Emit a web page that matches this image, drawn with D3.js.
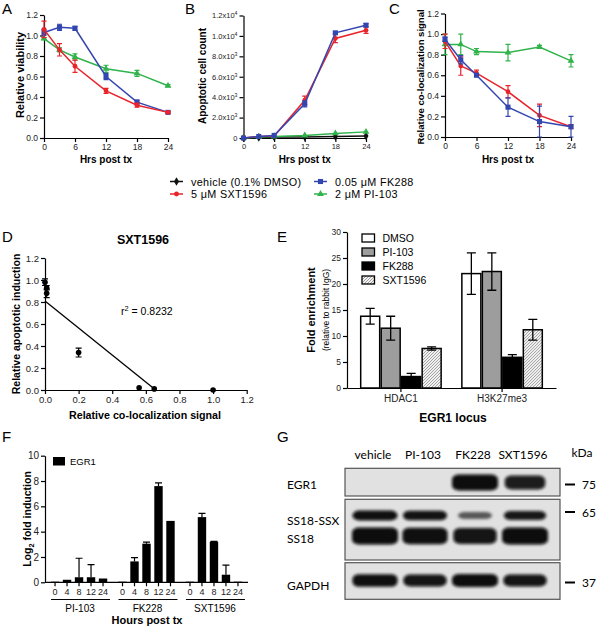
<!DOCTYPE html>
<html><head><meta charset="utf-8">
<script src="https://cdn.jsdelivr.net/npm/d3@7"></script>
<style>
body{margin:0;background:#fff}
svg{font-family:"Liberation Sans",Arial,sans-serif}
</style></head><body>
<svg id="c" width="600" height="632"></svg>
<script>
// ---------------- DATA ----------------
const hours = [0, 3, 6, 12, 18, 24];
const xTicksHrs = [0, 6, 12, 18, 24];
const seriesNames = ["vehicle (0.1% DMSO)", "0.05 \u03bcM FK288", "5 \u03bcM SXT1596", "2 \u03bcM PI-103"];

// A: relative viability
const viabSXT = [1.06, 0.86, 0.70, 0.46, 0.32, 0.25];
const viabSXTErr = [0.08, 0.06, 0.06, 0.025, 0.02, 0.01];
const viabFK = [1.03, 1.08, 1.07, 0.60, 0.35, 0.25];
const viabFKErr = [0.03, 0.03, 0.02, 0.03, 0.02, 0.01];
const viabPI = [0.97, 0.86, 0.79, 0.675, 0.63, 0.51];
const viabPIErr = [0.01, 0.02, 0.03, 0.035, 0.03, 0.01];
const yTicksRel = [0, 0.2, 0.4, 0.6, 0.8, 1.0, 1.2];

// B: apoptotic cell count
const apoVeh = [0, 50, 100, 100, 150, 200];
const apoVehErr = [0, 0, 0, 0, 0, 0];
const apoSXT = [0, 150, 200, 3700, 9750, 10550];
const apoSXTErr = [0, 0, 0, 400, 400, 300];
const apoFK = [0, 150, 250, 3350, 10300, 11050];
const apoFKErr = [0, 0, 0, 300, 100, 150];
const apoPI = [0, 100, 150, 250, 450, 600];
const apoPIErr = [0, 0, 0, 0, 0, 0];
const yTicksApo = [0, 2000, 4000, 6000, 8000, 10000, 12000];

// C: relative co-localization signal
const colSXT = [0.93, 0.69, 0.62, 0.44, 0.21, 0.10];
const colSXTErr = [0.07, 0.09, 0.03, 0.06, 0.11, 0.02];
const colFK = [0.95, 0.75, 0.60, 0.29, 0.15, 0.10];
const colFKErr = [0.02, 0.04, 0.01, 0.09, 0.15, 0.10];
const colPI = [0.90, 0.90, 0.83, 0.82, 0.875, 0.74];
const colPIErr = [0.10, 0.10, 0.03, 0.08, 0.015, 0.06];

// D: SXT1596 correlation
const dColoc = [0.0, 0.01, 0.01, 0.20, 0.56, 0.65, 1.0];
const dApop = [0.98, 0.93, 0.88, 0.34, 0.02, 0.01, 0.0];
const dApopErr = [0.03, 0.02, 0.04, 0.04, 0, 0, 0];
const fitIntercept = 0.81;
const fitSlope = -1.23;
const rSquared = "0.8232";
const dTicks = [0, 0.2, 0.4, 0.6, 0.8, 1.0, 1.2];

// E: ChIP fold enrichment at EGR1 locus
const eTargets = ["HDAC1", "H3K27me3"];
const eTreatments = ["DMSO", "PI-103", "FK288", "SXT1596"];
const eHDAC1 = [13.8, 11.5, 2.2, 7.6];
const eHDAC1Err = [1.5, 2.3, 0.6, 0.3];
const eH3K27 = [22.0, 22.4, 5.9, 11.2];
const eH3K27Err = [4.0, 3.6, 0.5, 2.0];
const eTicks = [0, 5, 10, 15, 20, 25, 30];

// F: EGR1 log2 fold induction
const fGroups = ["PI-103", "FK228", "SXT1596"];
const fHours = ["0", "4", "8", "12", "24"];
const fPI = [0.05, 0.2, 0.4, 0.4, 0.3];
const fPIErr = [0, 0, 1.5, 1.0, 0];
const fFK = [0.05, 1.65, 3.05, 7.6, 4.85];
const fFKErr = [0, 0.3, 0.12, 0.25, 0];
const fSXT = [0.05, 5.15, 3.2, 0.6, 0.05];
const fSXTErr = [0, 0.3, 0.03, 0.75, 0];
const fTicks = [0, 2, 4, 6, 8, 10];

// G: western blot
const blotLanes = ["vehicle", "PI-103", "FK228", "SXT1596"];
const blotRows = ["EGR1", "SS18-SSX", "SS18", "GAPDH"];
const bandEGR1 = [0, 0, 1.0, 0.7];
const bandSS18SSX = [0.95, 0.9, 0.35, 0.8];
const bandSS18 = [1.0, 0.95, 0.85, 1.0];
const bandGAPDH = [0.95, 0.85, 1.0, 0.85];
const kdaMarkers = ["75", "65", "37"];

// ---------------- STYLE ----------------
const colVeh = "#111111", colFKc = "#3346b0", colSXTc = "#e8232a", colPIc = "#2fb34a";
const FONT = "Liberation Sans, Arial, sans-serif";

const svg = d3.select("#c");
const defs = svg.append("defs");

function styleAxis(g, fs) {
  g.attr("font-family", FONT).attr("font-size", fs);
  g.selectAll("path.domain").attr("stroke", "#000").attr("stroke-width", 1.2);
  g.selectAll(".tick line").attr("stroke", "#000").attr("stroke-width", 1.2);
  g.selectAll(".tick text").attr("fill", "#222");
}
function letter(t, x, y) {
  svg.append("text").attr("x", x).attr("y", y).attr("font-size", 15).attr("font-family", FONT).text(t);
}
function vlabel(t, cx, cy, fs, bold) {
  return svg.append("text").attr("transform", `translate(${cx + fs * 0.36},${cy}) rotate(-90)`)
    .attr("text-anchor", "middle").attr("font-size", fs).attr("font-weight", bold ? "bold" : "normal")
    .attr("font-family", FONT).text(t);
}
function hlabel(t, cx, y, fs, bold) {
  return svg.append("text").attr("x", cx).attr("y", y).attr("text-anchor", "middle").attr("font-size", fs)
    .attr("font-weight", bold ? "bold" : "normal").attr("font-family", FONT).text(t);
}

// ---------- line panels A, B, C ----------
function linePanel(o) {
  const x = d3.scaleLinear().domain([0, 24]).range([o.left, o.right]);
  const y = d3.scaleLinear().domain([0, o.ymax]).range([o.bottom, o.top]);
  const g = svg.append("g");
  const ya = g.append("g").attr("transform", `translate(${o.left},0)`)
    .call(d3.axisLeft(y).tickValues(o.yticks).tickSize(4).tickSizeOuter(0).tickPadding(2).tickFormat(o.yfmt));
  styleAxis(ya, o.fs);
  if (o.yPost) ya.selectAll(".tick text").each(o.yPost);
  const xa = g.append("g").attr("transform", `translate(0,${o.bottom})`)
    .call(d3.axisBottom(x).tickValues(xTicksHrs).tickSize(4).tickSizeOuter(0).tickPadding(2));
  styleAxis(xa, o.fs);
  o.series.forEach(s => {
    const pts = hours.map((h, i) => ({ h, v: s.vals[i], e: s.errs[i] }));
    g.append("path").datum(pts).attr("fill", "none").attr("stroke", s.color).attr("stroke-width", 1.5)
      .attr("d", d3.line().x(d => x(d.h)).y(d => y(d.v)));
    g.append("g").selectAll("path").data(pts.filter(d => d.e > 0)).join("path")
      .attr("fill", "none").attr("stroke", s.color).attr("stroke-width", 1.2)
      .attr("d", d => {
        const cx = x(d.h), lo = y(Math.max(0, d.v - d.e)), hi = y(d.v + d.e);
        return `M${cx},${lo}V${hi}M${cx - 2.5},${lo}h5M${cx - 2.5},${hi}h5`;
      });
    g.append("g").selectAll("path").data(pts).join("path")
      .attr("transform", d => `translate(${x(d.h)},${y(d.v)})`)
      .attr("d", d3.symbol(s.symbol, s.size)).attr("fill", s.color);
  });
  hlabel("Hrs post tx", (o.left + o.right) / 2, 163, 10, true);
}

const symVeh = { symbol: d3.symbolDiamond, size: 22 };
const symFK = { symbol: d3.symbolSquare, size: 26 };
const symSXT = { symbol: d3.symbolCircle, size: 18 };
const symPI = { symbol: d3.symbolTriangle, size: 20 };

linePanel({
  left: 44, right: 168, top: 15, bottom: 138, ymax: 1.2, yticks: yTicksRel, fs: 8.5,
  yfmt: d3.format(".1f"),
  series: [
    { vals: viabPI, errs: viabPIErr, color: colPIc, ...symPI },
    { vals: viabFK, errs: viabFKErr, color: colFKc, ...symFK },
    { vals: viabSXT, errs: viabSXTErr, color: colSXTc, ...symSXT },
  ]
});
vlabel("Relative viability", 20, 75, 11, true);
letter("A", 2, 14);

linePanel({
  left: 243.5, right: 366, top: 15.5, bottom: 138, ymax: 12000, yticks: yTicksApo, fs: 7.5,
  yfmt: d => String(d),
  yPost: function (d) {
    const t = d3.select(this); t.text(null);
    if (d === 0) { t.text("0"); return; }
    const ex = d >= 10000 ? 4 : 3;
    t.append("tspan").text((d / Math.pow(10, ex)).toFixed(1) + "x10");
    t.append("tspan").attr("dy", -3).attr("font-size", "0.7em").text(ex);
  },
  series: [
    { vals: apoVeh, errs: apoVehErr, color: colVeh, ...symVeh },
    { vals: apoPI, errs: apoPIErr, color: colPIc, ...symPI },
    { vals: apoSXT, errs: apoSXTErr, color: colSXTc, ...symSXT },
    { vals: apoFK, errs: apoFKErr, color: colFKc, ...symFK },
  ]
});
vlabel("Apoptotic cell count", 202, 76, 10, true);
letter("B", 185, 14);

linePanel({
  left: 445, right: 571, top: 13.5, bottom: 137, ymax: 1.2, yticks: yTicksRel, fs: 8.5,
  yfmt: d3.format(".1f"),
  series: [
    { vals: colPI, errs: colPIErr, color: colPIc, ...symPI },
    { vals: colSXT, errs: colSXTErr, color: colSXTc, ...symSXT },
    { vals: colFK, errs: colFKErr, color: colFKc, ...symFK },
  ]
});
vlabel("Relative co-localization signal", 421, 77, 9.5, true);
letter("C", 389, 14);

// legend
const legItems = [
  { name: seriesNames[0], color: colVeh, ...symVeh, x: 170, y: 181.5 },
  { name: seriesNames[1], color: colFKc, ...symFK, x: 314, y: 181.5 },
  { name: seriesNames[2], color: colSXTc, ...symSXT, x: 170, y: 194 },
  { name: seriesNames[3], color: colPIc, ...symPI, x: 314, y: 194 },
];
const leg = svg.append("g").selectAll("g").data(legItems).join("g")
  .attr("transform", d => `translate(${d.x},${d.y})`);
leg.append("line").attr("x1", 0).attr("x2", 13).attr("stroke", d => d.color).attr("stroke-width", 1.5);
leg.append("path").attr("transform", "translate(6.5,0)").attr("d", d => d3.symbol(d.symbol, d.size)()).attr("fill", d => d.color);
leg.append("text").attr("x", 21).attr("y", 4).attr("font-size", 10.8).attr("letter-spacing", 0.35)
  .attr("font-family", FONT).text(d => d.name);

// ---------- D ----------
{
  const x = d3.scaleLinear().domain([0, 1.2]).range([45, 246.7]);
  const y = d3.scaleLinear().domain([0, 1.2]).range([390, 258]);
  const g = svg.append("g");
  const ya = g.append("g").attr("transform", "translate(45,0)")
    .call(d3.axisLeft(y).tickValues(dTicks).tickSize(4).tickSizeOuter(0).tickPadding(2).tickFormat(d3.format(".1f")));
  styleAxis(ya, 9.5);
  const xa = g.append("g").attr("transform", "translate(0,390)")
    .call(d3.axisBottom(x).tickValues(dTicks).tickSize(4).tickSizeOuter(0).tickPadding(2).tickFormat(d3.format(".1f")));
  styleAxis(xa, 9.5);
  const x0 = -fitIntercept / fitSlope;
  g.append("line").attr("x1", x(0)).attr("y1", y(fitIntercept)).attr("x2", x(x0)).attr("y2", y(0))
    .attr("stroke", "#000").attr("stroke-width", 1.3);
  const pts = dColoc.map((c, i) => ({ c, a: dApop[i], e: dApopErr[i] }));
  g.append("g").selectAll("path").data(pts.filter(d => d.e > 0)).join("path")
    .attr("fill", "none").attr("stroke", "#000").attr("stroke-width", 1.2)
    .attr("d", d => { const cx = x(d.c), lo = y(d.a - d.e), hi = y(d.a + d.e); return `M${cx},${lo}V${hi}M${cx - 3},${lo}h6M${cx - 3},${hi}h6`; });
  g.append("g").selectAll("circle").data(pts).join("circle")
    .attr("cx", d => x(d.c)).attr("cy", d => y(d.a)).attr("r", 2.8).attr("fill", "#000");
  const rt = g.append("text").attr("x", 121).attr("y", 315).attr("font-size", 10.5).attr("font-family", FONT);
  rt.append("tspan").text("r");
  rt.append("tspan").attr("dy", -4).attr("font-size", "0.7em").text("2");
  rt.append("tspan").attr("dy", 4).text(" = " + rSquared);
  hlabel("SXT1596", 143, 244, 12.5, true);
  hlabel("Relative co-localization signal", 145, 419, 10.7, true);
  vlabel("Relative apoptotic induction", 16, 324, 10.5, true);
  letter("D", 2, 242);
}

// ---------- E ----------
{
  const y = d3.scaleLinear().domain([0, 30]).range([388, 232]);
  const x0 = d3.scaleBand().domain(eTargets).range([347, 556]).paddingInner(0.19).paddingOuter(0.128);
  const x1 = d3.scaleBand().domain(eTreatments).range([0, x0.bandwidth()]);
  const pat = defs.append("pattern").attr("id", "hatch").attr("patternUnits", "userSpaceOnUse")
    .attr("width", 3).attr("height", 3);
  pat.append("rect").attr("width", 3).attr("height", 3).attr("fill", "#f2f2f2");
  pat.append("path").attr("d", "M-1,1 L1,-1 M0,3 L3,0 M2,4 L4,2").attr("stroke", "#8a8a8a").attr("stroke-width", 0.8);
  const fills = ["#ffffff", "#9d9d9d", "#000000", "url(#hatch)"];
  const g = svg.append("g");
  const ya = g.append("g").attr("transform", "translate(347,0)")
    .call(d3.axisLeft(y).tickValues(eTicks).tickSize(4).tickSizeOuter(0).tickPadding(2));
  styleAxis(ya, 8.5);
  const xa = g.append("g").attr("transform", "translate(0,388)")
    .call(d3.axisBottom(x0).tickSize(4).tickSizeOuter(0).tickPadding(3));
  styleAxis(xa, 10);
  const rows = [
    { t: eTargets[0], vals: eHDAC1, errs: eHDAC1Err },
    { t: eTargets[1], vals: eH3K27, errs: eH3K27Err },
  ];
  rows.forEach(r => {
    const data = eTreatments.map((tr, i) => ({ tr, i, v: r.vals[i], e: r.errs[i] }));
    const gg = g.append("g").attr("transform", `translate(${x0(r.t)},0)`);
    gg.selectAll("rect").data(data).join("rect")
      .attr("x", d => x1(d.tr) + 0.75).attr("width", x1.bandwidth() - 1.5)
      .attr("y", d => y(d.v)).attr("height", d => y(0) - y(d.v))
      .attr("fill", d => fills[d.i]).attr("stroke", "#000").attr("stroke-width", 1.5);
    gg.selectAll("path").data(data).join("path").attr("fill", "none").attr("stroke", "#000").attr("stroke-width", 1.3)
      .attr("d", d => { const cx = x1(d.tr) + x1.bandwidth() / 2, lo = y(d.v - d.e), hi = y(d.v + d.e); return `M${cx},${lo}V${hi}M${cx - 4.5},${lo}h9M${cx - 4.5},${hi}h9`; });
  });
  const lg = g.append("g").selectAll("g").data(eTreatments).join("g")
    .attr("transform", (d, i) => `translate(362,${238 + i * 14})`);
  lg.append("rect").attr("x", 0).attr("y", -4).attr("width", 12.5).attr("height", 8)
    .attr("fill", (d, i) => fills[i]).attr("stroke", "#000").attr("stroke-width", 1.3);
  lg.append("text").attr("x", 20.5).attr("y", 4).attr("font-size", 10.5).attr("font-family", FONT).text(d => d);
  hlabel("EGR1 locus", 453, 422, 12, true);
  vlabel("Fold enrichment", 311, 310, 11, true);
  vlabel("(relative to rabbit IgG)", 326, 310, 8.5, false);
  letter("E", 277, 242);
}

// ---------- F ----------
{
  const y = d3.scaleLinear().domain([0, 10]).range([582.3, 455.7]);
  const x0 = d3.scaleBand().domain(fGroups).range([45, 248]).paddingInner(0.111).paddingOuter(0.06);
  const x1 = d3.scaleBand().domain(fHours).range([0, x0.bandwidth()]).paddingInner(0.3).paddingOuter(0.15);
  const g = svg.append("g");
  const ya = g.append("g").attr("transform", "translate(45,0)")
    .call(d3.axisLeft(y).tickValues(fTicks).tickSize(4).tickSizeOuter(0).tickPadding(2));
  styleAxis(ya, 10);
  g.append("line").attr("x1", 45).attr("x2", 248).attr("y1", y(0)).attr("y2", y(0)).attr("stroke", "#000").attr("stroke-width", 1.2);
  const groups = [
    { g: fGroups[0], vals: fPI, errs: fPIErr },
    { g: fGroups[1], vals: fFK, errs: fFKErr },
    { g: fGroups[2], vals: fSXT, errs: fSXTErr },
  ];
  groups.forEach(gr => {
    const gg = g.append("g").attr("transform", `translate(${x0(gr.g)},0)`);
    const data = fHours.map((h, i) => ({ h, v: gr.vals[i], e: gr.errs[i] }));
    const xa = gg.append("g").attr("transform", `translate(0,${y(0)})`)
      .call(d3.axisBottom(x1).tickSize(4).tickSizeOuter(0).tickPadding(2));
    xa.select("path.domain").remove();
    styleAxis(xa, 9);
    gg.selectAll("path.err").data(data.filter(d => d.e > 0)).join("path").attr("class", "err")
      .attr("fill", "none").attr("stroke", "#000").attr("stroke-width", 1.2)
      .attr("d", d => { const cx = x1(d.h) + x1.bandwidth() / 2, hi = y(d.v + d.e); return `M${cx},${y(d.v)}V${hi}M${cx - 3.5},${hi}h7`; });
    gg.selectAll("rect").data(data).join("rect")
      .attr("x", d => x1(d.h)).attr("width", x1.bandwidth())
      .attr("y", d => y(d.v)).attr("height", d => y(0) - y(d.v)).attr("fill", "#000");
    gg.append("line").attr("x1", 2).attr("x2", x0.bandwidth() + 1).attr("y1", 599.5).attr("y2", 599.5)
      .attr("stroke", "#000").attr("stroke-width", 1);
    gg.append("text").attr("x", x0.bandwidth() / 2 + 1).attr("y", 611.5).attr("text-anchor", "middle")
      .attr("font-size", 10).attr("font-family", FONT).text(gr.g);
  });
  g.append("rect").attr("x", 53).attr("y", 457).attr("width", 12).attr("height", 8.5).attr("fill", "#000");
  g.append("text").attr("x", 70).attr("y", 465).attr("font-size", 9.5).attr("font-family", FONT).text("EGR1");
  hlabel("Hours post tx", 147, 623.5, 11, true);
  const yl = svg.append("text").attr("transform", "translate(31,519) rotate(-90)").attr("text-anchor", "middle")
    .attr("font-size", 10.5).attr("font-weight", "bold").attr("font-family", FONT);
  yl.append("tspan").text("Log");
  yl.append("tspan").attr("dy", 3).attr("font-size", "0.7em").text("2");
  yl.append("tspan").attr("dy", -3).text(" fold induction");
  letter("F", 2, 442);
}

// ---------- G ----------
{
  const BF = "Lato, 'Open Sans', sans-serif";
  const lx = d3.scaleBand().domain(blotLanes).range([350, 550]);
  defs.append("filter").attr("id", "blur").attr("x", "-30%").attr("y", "-80%").attr("width", "160%").attr("height", "260%")
    .append("feGaussianBlur").attr("stdDeviation", 1.5);
  const boxes = [[468.3, 496], [499.3, 560], [562.7, 599.3]];
  const g = svg.append("g");
  g.selectAll("rect.box").data(boxes).join("rect").attr("class", "box")
    .attr("x", 345).attr("width", 215).attr("y", d => d[0]).attr("height", d => d[1] - d[0])
    .attr("fill", "#e1e1e1").attr("stroke", "#555").attr("stroke-width", 1.2);
  const rowDefs = [
    { vals: bandEGR1, cy: 482.5, th: 16 },
    { vals: bandSS18SSX, cy: 515.5, th: 10 },
    { vals: bandSS18, cy: 536, th: 17 },
    { vals: bandGAPDH, cy: 580.5, th: 13 },
  ];
  const op = d3.scaleLinear().domain([0, 0.5, 1]).range([0, 0.88, 1]);
  rowDefs.forEach(r => {
    g.append("g").attr("filter", "url(#blur)").selectAll("rect").data(blotLanes.map((l, i) => ({ l, v: r.vals[i] })).filter(d => d.v > 0))
      .join("rect")
      .attr("x", d => lx(d.l) + lx.bandwidth() / 2 - 23 * (0.6 + 0.4 * d.v))
      .attr("width", d => 46 * (0.6 + 0.4 * d.v))
      .attr("y", d => r.cy - r.th * (0.55 + 0.45 * d.v) / 2)
      .attr("height", d => r.th * (0.55 + 0.45 * d.v))
      .attr("rx", 7).attr("ry", 5)
      .attr("fill", "#0a0a0a").attr("opacity", d => op(d.v));
  });
  g.selectAll("text.lane").data(blotLanes).join("text").attr("class", "lane")
    .attr("x", d => lx(d) + lx.bandwidth() / 2 - 2).attr("y", 458.5).attr("text-anchor", "middle")
    .attr("font-size", 12).attr("font-family", BF).text(d => d);
  g.append("text").attr("x", 582).attr("y", 457).attr("text-anchor", "middle").attr("font-size", 12).attr("font-family", BF).text("kDa");
  const rowLab = [[blotRows[0], 489], [blotRows[1], 525], [blotRows[2], 542.5], [blotRows[3], 590]];
  g.selectAll("text.row").data(rowLab).join("text").attr("class", "row")
    .attr("x", 287).attr("y", d => d[1]).attr("font-size", 12).attr("font-family", BF).text(d => d[0]);
  const mk = [[kdaMarkers[0], 484.5], [kdaMarkers[1], 512], [kdaMarkers[2], 582.5]];
  g.selectAll("line.mk").data(mk).join("line").attr("class", "mk")
    .attr("x1", 565).attr("x2", 575).attr("y1", d => d[1]).attr("y2", d => d[1]).attr("stroke", "#000").attr("stroke-width", 2);
  g.selectAll("text.mk").data(mk).join("text").attr("class", "mk")
    .attr("x", 582).attr("y", d => d[1] + 4.5).attr("font-size", 12).attr("font-family", BF).text(d => d[0]);
  letter("G", 277, 442);
}
</script>
</body></html>
